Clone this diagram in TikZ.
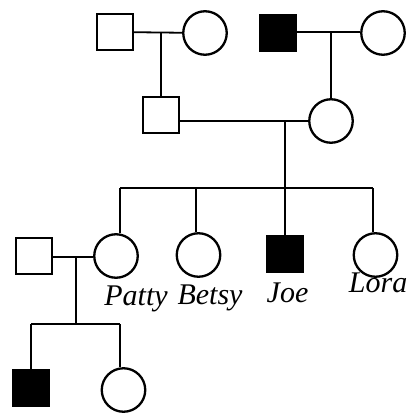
\documentclass[tikz,border=0pt]{standalone}
\usepackage{fontspec}
\setmainfont{Liberation Serif}
\begin{document}
\begin{tikzpicture}[x=1pt,y=-1pt,
  sq/.style={draw, line width=2pt, minimum size=36pt, inner sep=0pt},
  af/.style={sq, fill=black},
  ci/.style={circle, draw, line width=2.3pt, minimum size=43.5pt, inner sep=0pt},
  ln/.style={line width=1.8pt},
  lbl/.style={anchor=base, inner sep=0pt, font=\fontsize{30}{32}\selectfont\itshape}]
\useasboundingbox (0,0) rectangle (409,414);
% generation I
\node[sq] (s1) at (115,32) {};
\node[ci] (c1) at (205,33) {};
\node[af] (a1) at (278,33) {};
\node[ci] (c2) at (383,33) {};
\coordinate (m1) at (161,33);
\coordinate (m2) at (331,32);
% generation II
\node[sq] (s2) at (161,115) {};
\node[ci] (c3) at (331,121) {};
\coordinate (m3) at (285,121);
\coordinate (b0) at (285,188);
\coordinate (bp) at (120,188);
\coordinate (bb) at (196,188);
\coordinate (bl) at (373,188);
% generation III
\node[sq] (s3) at (34,256) {};
\node[ci] (patty) at (116,256) {};
\node[ci] (betsy) at (198.5,255) {};
\node[af] (joe) at (285,254) {};
\node[ci] (lora) at (375.5,255) {};
\node[lbl] (tp) at (136,305) {Patty};
\node[lbl] (tb) at (210,304) {Betsy};
\node[lbl] (tj) at (287.5,302) {Joe};
\node[lbl, anchor=base east] (tl) at (407.5,292) {Lora};
\coordinate (m4) at (76,257);
\coordinate (b4) at (76,324);
\coordinate (k1) at (31,324);
\coordinate (k2) at (120,324);
% generation IV
\node[af] (a2) at (31,388) {};
\node[ci] (c4) at (123.5,390) {};
% connectors
\draw[ln] (s1) -- (c1);
\draw[ln] (m1) -- (s2);
\draw[ln] (a1.east |- m2) -- (c2.west |- m2);
\draw[ln] (m2) -- (c3);
\draw[ln] (s2.east |- m3) -- (c3.west |- m3);
\draw[ln] (m3) -- (b0);
\draw[ln] (bp) -- (bl);
\draw[ln] (bp) -- (bp |- patty.north);
\draw[ln] (bb) -- (bb |- betsy.north);
\draw[ln] (b0) -- (joe);
\draw[ln] (bl) -- (bl |- lora.north);
\draw[ln] (s3.east |- m4) -- (patty.west |- m4);
\draw[ln] (m4) -- (b4);
\draw[ln] (k1) -- (k2);
\draw[ln] (k1) -- (a2);
\draw[ln] (k2) -- (k2 |- c4.north);
\end{tikzpicture}
\end{document}
